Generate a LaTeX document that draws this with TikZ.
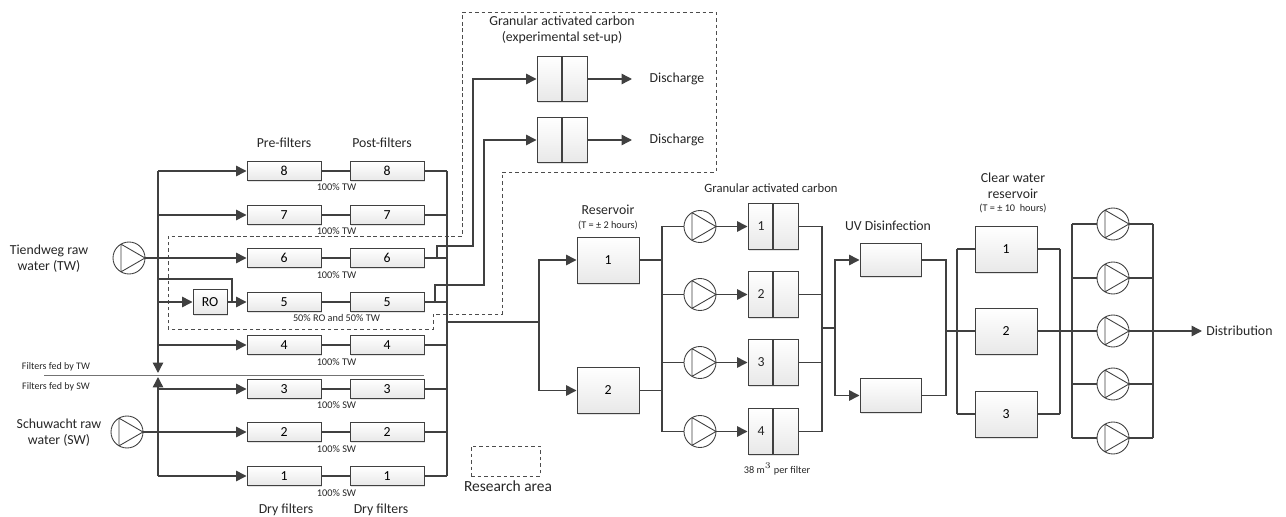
\documentclass[tikz,border=0pt]{standalone}
\usepackage{fontspec}
\setmainfont{Carlito}
\usepackage{tikz}
\usetikzlibrary{arrows.meta, shadows, calc}
\definecolor{pipegray}{RGB}{64,64,64}
\newcommand{\maintxt}{\fontsize{7.85}{9.2}\selectfont}
\newcommand{\smalltxt}{\fontsize{5.85}{7}\selectfont}
\tikzset{
    pipe/.style={draw=pipegray, line width=0.85pt},
    flow/.style={pipe, -{Triangle[length=0.21cm,width=0.21cm]}},
    boxed/.style={draw=pipegray, line width=0.55pt, top color=white, bottom color=black!9, inner sep=0pt,
        drop shadow={shadow xshift=0.8pt, shadow yshift=-0.9pt, fill=black!22}},
    filterbox/.style={boxed, minimum width=1.48cm, minimum height=0.37cm},
    tank/.style={boxed, minimum width=1.24cm, minimum height=0.92cm},
    uvbox/.style={boxed, minimum width=1.22cm, minimum height=0.67cm},
    robox/.style={boxed, minimum width=0.68cm, minimum height=0.5cm},
    gacbox/.style={boxed, minimum width=1cm, minimum height=0.91cm,
        path picture={\draw[pipegray, line width=0.65pt] (path picture bounding box.north) -- (path picture bounding box.south);}},
    pump/.style={circle, draw=pipegray, fill=white, line width=0.5pt, minimum size=0.64cm, inner sep=0pt,
        path picture={\draw[pipegray, line width=0.5pt] (path picture bounding box.center) ++(120:16) -- (path picture bounding box.east)
            -- ($(path picture bounding box.center)+(240:16)$) -- cycle;}},
    research/.style={draw=black!70, line width=0.45pt, dash pattern=on 2.2pt off 1.5pt},
    lbl/.style={inner sep=0pt, align=center, font=\maintxt, text=black!85},
    tiny/.style={inner sep=0pt, align=center, font=\smalltxt, text=black!85}
}
\begin{document}
\begin{tikzpicture}[x=0.02cm, y=-0.02cm]
    \useasboundingbox (0,0) rectangle (1286,517);

    \draw[research] (462,12) -- (716,12) -- (716,172) -- (502,172) -- (502,314) -- (433,314) -- (433,329) -- (168,329) -- (168,236) -- (462,236) -- cycle;
    \node[research, minimum width=1.38cm, minimum height=0.6cm, inner sep=0pt] (legend) at (505.5,461) {};
    \node[lbl, font=\fontsize{8.8}{10}\selectfont] (legendtxt) at (508,486) {Research area};

    \coordinate (feedtop) at (158,171);
    \coordinate (feedbot) at (158,476);
    \coordinate (feedmidtw) at (158,373);
    \coordinate (feedmidsw) at (158,377);
    \coordinate (collecttop) at (447,171);
    \coordinate (collectbot) at (447,476);
    \coordinate (splitleft) at (44,375);
    \coordinate (splitright) at (424,375);

    \foreach \n/\y/\ly/\lab in {8/171/187/100\% TW, 7/215/231/100\% TW, 6/258/275/100\% TW, 5/302/318/50\% RO and 50\% TW,
                                4/345/362/100\% TW, 3/389/405/100\% SW, 2/432/449/100\% SW, 1/476/493/100\% SW}{
        \node[filterbox] (pre\n) at (284,\y) {\maintxt\n};
        \node[filterbox] (post\n) at (387,\y) {\maintxt\n};
        \node[tiny] (share\n) at (336.5,\ly) {\lab};
        \draw[pipe] (pre\n) -- (post\n);
        \draw[pipe] (post\n) -- (collecttop |- post\n);
    }

    \node[lbl] (prelbl) at (284,143) {Pre-filters};
    \node[lbl] (postlbl) at (382,143) {Post-filters};
    \node[lbl] (drypre) at (286,510) {Dry filters};
    \node[lbl] (drypost) at (381,510) {Dry filters};
    \node[lbl] (twlbl) at (49,259) {Tiendweg raw\\water (TW)};
    \node[lbl] (swlbl) at (59,433) {Schuwacht raw\\water (SW)};
    \node[tiny, font=\fontsize{5.7}{7}\selectfont] (fedtw) at (56,367) {Filters fed by TW};
    \node[tiny, font=\fontsize{5.7}{7}\selectfont] (fedsw) at (56,387) {Filters fed by SW};

    \node[pump] (pumptw) at (129,258) {};
    \node[pump] (pumpsw) at (127,432) {};
    \node[robox] (ro) at (210,302) {\maintxt RO};

    \draw[draw=black!55, line width=0.5pt] (splitleft) -- (splitright);
    \draw[flow] (feedtop) -- (feedmidtw);
    \draw[flow] (feedbot) -- (feedmidsw);
    \foreach \n in {8,7,4,3,1}{
        \draw[flow] (feedtop |- pre\n.west) -- (pre\n.west);
    }
    \draw[flow] (pumptw.east) -- (pre6.west);
    \draw[flow] (pumpsw.east) -- (pre2.west);
    \draw[flow] (feedtop |- ro.west) -- (ro.west);
    \draw[flow] (ro.east) -- (pre5.west);
    \coordinate (rotap) at (158,279);
    \coordinate (rojoin) at (232,279);
    \draw[pipe] (rotap) -- (rojoin) -- (rojoin |- pre5.west);
    \draw[pipe] (collecttop) -- (collectbot);

    \node[lbl] (gactitle) at (562,30) {Granular activated carbon\\(experimental set-up)};
    \node[gacbox] (expa) at (562,79) {};
    \node[gacbox] (expb) at (562,140) {};
    \node[lbl] (disa) at (677,79) {Discharge};
    \node[lbl] (disb) at (677,140) {Discharge};
    \coordinate (endexpa) at (632,79);
    \coordinate (endexpb) at (632,140);
    \draw[flow] (expa) -- (endexpa);
    \draw[flow] (expb) -- (endexpb);
    \coordinate (tapa) at (437,258);
    \coordinate (tapb) at (435,302);
    \draw[flow] (tapa) |- (473,246) |- (expa.west);
    \draw[flow] (tapb) |- (484,285) |- (expb.west);

    \node[tank] (reso1) at (608,260) {\maintxt 1};
    \node[tank] (reso2) at (608,390.5) {\maintxt 2};
    \node[lbl] (resolbl) at (608,210) {Reservoir};
    \node[tiny] (resotime) at (608,225) {(T = ± 2 hours)};
    \coordinate (outlet) at (447,322);
    \coordinate (resosplit) at (539,322);
    \draw[pipe] (outlet) -- (resosplit);
    \draw[flow] (resosplit) |- (reso1.west);
    \draw[flow] (resosplit) |- (reso2.west);

    \node[lbl, font=\fontsize{7.2}{9}\selectfont] (gaclbl) at (771,188) {Granular activated carbon};
    \node[tiny] (gacvol) at (777,469) {38 m$^{3}$ per filter};
    \coordinate (pumpbus) at (662,227);
    \coordinate (gacbus) at (822,227);
    \foreach \n/\y in {1/226.5, 2/294.5, 3/362.5, 4/431.5}{
        \node[pump] (gacpump\n) at (700,\y) {};
        \node[gacbox] (gac\n) at (773,\y) {};
        \node[lbl] (gacnum\n) at (761,\y) {\n};
        \draw[pipe] (pumpbus |- gacpump\n) -- (gacpump\n.west);
        \draw[flow] (gacpump\n.east) -- (gac\n.west);
        \draw[pipe] (gac\n.east) -- (gacbus |- gac\n);
    }
    \draw[pipe] (pumpbus |- gacpump1) -- (pumpbus |- gacpump4);
    \draw[pipe] (gacbus |- gac1) -- (gacbus |- gac4);
    \draw[pipe] (reso1.east) -- (pumpbus |- reso1);
    \draw[pipe] (reso2.east) -- (pumpbus |- reso2);

    \node[lbl] (uvlbl) at (888,226) {UV Disinfection};
    \node[uvbox] (uv1) at (890.5,260) {};
    \node[uvbox] (uv2) at (890.5,395.5) {};
    \coordinate (uvtap) at (822,328);
    \coordinate (uvsplit) at (835,328);
    \draw[pipe] (uvtap) -- (uvsplit);
    \draw[flow] (uvsplit) |- (uv1.west);
    \draw[flow] (uvsplit) |- (uv2.west);
    \coordinate (uvbus) at (946,331);
    \draw[pipe] (uv1.east) -| (uvbus);
    \draw[pipe] (uv2.east) -| (uvbus);

    \node[lbl] (clearlbl) at (1013,185.5) {Clear water\\reservoir};
    \node[tiny] (cleartime) at (1013,208) {(T = ± 10\ \ hours)};
    \node[tank] (clear1) at (1006,249) {\maintxt 1};
    \node[tank] (clear2) at (1006,331) {\maintxt 2};
    \node[tank] (clear3) at (1006,414) {\maintxt 3};
    \coordinate (clearin) at (957,331);
    \coordinate (clearout) at (1060,331);
    \draw[pipe] (uvbus) -- (clear2.west);
    \draw[pipe] (clearin |- clear1) -- (clear1.west);
    \draw[pipe] (clearin |- clear3) -- (clear3.west);
    \draw[pipe] (clearin |- clear1) -- (clearin |- clear3);
    \draw[pipe] (clear1.east) -- (clearout |- clear1);
    \draw[pipe] (clear3.east) -- (clearout |- clear3);
    \draw[pipe] (clearout |- clear1) -- (clearout |- clear3);

    \coordinate (distin) at (1072,331);
    \coordinate (distout) at (1153,331);
    \foreach \n/\y in {1/224, 2/278, 3/331, 4/384, 5/438}{
        \node[pump] (distpump\n) at (1113,\y) {};
        \draw[pipe] (distin |- distpump\n) -- (distpump\n.west);
        \draw[pipe] (distpump\n.east) -- (distout |- distpump\n);
    }
    \draw[pipe] (distin |- distpump1) -- (distin |- distpump5);
    \draw[pipe] (distout |- distpump1) -- (distout |- distpump5);
    \draw[pipe] (clear2.east) -- (distpump3.west);
    \node[lbl, anchor=west] (distlbl) at (1206,331) {Distribution};
    \coordinate (distend) at (1202,331);
    \draw[flow] (distpump3.east) -- (distend);
\end{tikzpicture}
\end{document}
